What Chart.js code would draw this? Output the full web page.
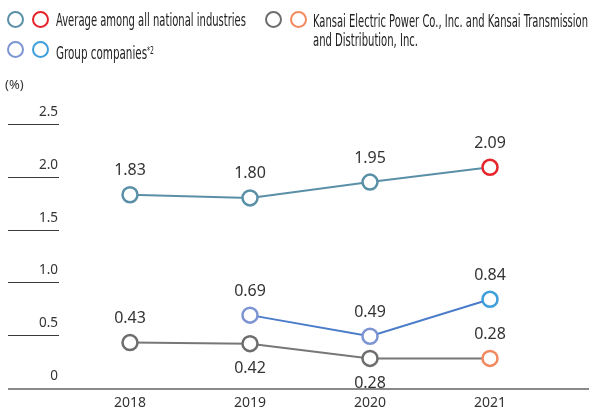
<!DOCTYPE html>
<html>
<head>
<meta charset="utf-8">
<script src="https://cdn.jsdelivr.net/npm/chart.js@4.4.1/dist/chart.umd.min.js"></script>
<style>
  html, body { margin: 0; padding: 0; background: #fff; }
  #wrap { position: relative; width: 589px; height: 412px; overflow: hidden; }
  #c { position: absolute; left: 0; top: 0; }
  .circ { position: absolute; width: 13px; height: 13px; border-radius: 50%; border: 2.5px solid; background: #fff; box-sizing: content-box; }
  .lt { position: absolute; font-family: "Liberation Sans Narrow", "DejaVu Sans Condensed", "Noto Sans", sans-serif; font-size: 17px; color: #222; white-space: nowrap; transform-origin: 0 50%; line-height: 18px; }
</style>
</head>
<body>
<div id="wrap">
  <canvas id="c" width="589" height="412"></canvas>
  <div class="circ" style="left:7px;top:11px;border-color:#5a8fa8"></div>
  <div class="circ" style="left:32px;top:11px;border-color:#e5242b"></div>
  <div class="lt" data-w="190" style="left:56px;top:11px">Average among all national industries</div>
  <div class="circ" style="left:7px;top:41px;border-color:#7c94d2"></div>
  <div class="circ" style="left:32px;top:41px;border-color:#3f9fdb"></div>
  <div class="lt" data-w="98" style="left:56px;top:42px">Group companies<sup style="font-size:10px;vertical-align:5px">*2</sup></div>
  <div class="circ" style="left:265px;top:11px;border-color:#6d6d6d"></div>
  <div class="circ" style="left:290px;top:11px;border-color:#f2895f"></div>
  <div class="lt" data-w="275" style="left:313px;top:12px">Kansai Electric Power Co., Inc. and Kansai Transmission</div>
  <div class="lt" data-w="105" style="left:313px;top:31px">and Distribution, Inc.</div>
</div>
<script>
// ---- data ----
const years = ["2018", "2019", "2020", "2021"];
const avgNational = [1.83, 1.80, 1.95, 2.09];
const groupCompanies = [null, 0.69, 0.49, 0.84];
const kansai = [0.43, 0.42, 0.28, 0.28];
const yTicks = [0, 0.5, 1.0, 1.5, 2.0, 2.5];
const yTickLabels = ["0", "0.5", "1.0", "1.5", "2.0", "2.5"];
const kansaiLabelBelow = [false, true, true, false];

// fit legend text widths
document.querySelectorAll('.lt').forEach(el => {
  const w = el.getBoundingClientRect().width;
  const t = parseFloat(el.dataset.w);
  if (w > 0) el.style.transform = 'scaleX(' + (t / w) + ')';
});

const valueFont = '16px "Noto Sans", sans-serif';

const decor = {
  id: 'decor',
  beforeDatasetsDraw(chart) {
    const ctx = chart.ctx;
    const y = chart.scales.y, x = chart.scales.x;
    ctx.save();
    ctx.font = '13.5px "Noto Sans", sans-serif';
    ctx.fillStyle = '#333';
    ctx.textAlign = 'right';
    ctx.textBaseline = 'middle';
    yTicks.forEach((v, i) => {
      const py = Math.round(y.getPixelForValue(v));
      if (v === 0) {
        ctx.strokeStyle = '#8a8a8a';
        ctx.lineWidth = 2;
        ctx.beginPath(); ctx.moveTo(8, py + 1); ctx.lineTo(589, py + 1); ctx.stroke();
      } else {
        ctx.strokeStyle = '#3a3a3a';
        ctx.lineWidth = 1;
        ctx.beginPath(); ctx.moveTo(8, py + 0.5); ctx.lineTo(59, py + 0.5); ctx.stroke();
      }
      ctx.fillText(yTickLabels[i], 58, py - 12);
    });
    ctx.textAlign = 'left';
    ctx.font = '13px "Noto Sans", sans-serif';
    ctx.fillText('(%)', 5, 85);
    ctx.textAlign = 'center';
    ctx.font = '14px "Noto Sans", sans-serif';
    years.forEach((yr, i) => {
      ctx.fillText(yr, x.getPixelForValue(i), 403);
    });
    ctx.restore();
  },
  afterDatasetsDraw(chart) {
    const ctx = chart.ctx;
    ctx.save();
    ctx.font = valueFont;
    ctx.fillStyle = '#333';
    ctx.textAlign = 'center';
    ctx.textBaseline = 'middle';
    chart.data.datasets.forEach((ds, di) => {
      const meta = chart.getDatasetMeta(di);
      meta.data.forEach((pt, i) => {
        const v = ds.data[i];
        if (v === null || v === undefined) return;
        const below = di === 2 && kansaiLabelBelow[i];
        ctx.fillText(v.toFixed(2), pt.x, pt.y + (below ? 25 : -24));
      });
    });
    ctx.restore();
  }
};

new Chart(document.getElementById('c'), {
  type: 'line',
  data: {
    labels: years,
    datasets: [
      {
        data: avgNational,
        borderColor: '#5a8fa8',
        pointBorderColor: ['#5a8fa8', '#5a8fa8', '#5a8fa8', '#e5242b'],
        backgroundColor: '#fff',
        pointBackgroundColor: '#fff'
      },
      {
        data: groupCompanies,
        borderColor: '#4a7cc9',
        pointBorderColor: ['#7c94d2', '#7c94d2', '#7c94d2', '#3f9fdb'],
        pointBackgroundColor: '#fff'
      },
      {
        data: kansai,
        borderColor: '#777777',
        pointBorderColor: ['#6d6d6d', '#6d6d6d', '#6d6d6d', '#f2895f'],
        pointBackgroundColor: '#fff'
      }
    ]
  },
  options: {
    responsive: false,
    animation: false,
    devicePixelRatio: 1,
    layout: { padding: { left: 70, right: 39, top: 124, bottom: 24 } },
    elements: {
      line: { borderWidth: 2, tension: 0 },
      point: { radius: 7.5, borderWidth: 2.5, hoverRadius: 7.5 }
    },
    scales: {
      x: { type: 'category', offset: true, display: false },
      y: { min: 0, max: 2.5, display: false }
    },
    plugins: { legend: { display: false }, tooltip: { enabled: false } }
  },
  plugins: [decor]
});
</script>
</body>
</html>
